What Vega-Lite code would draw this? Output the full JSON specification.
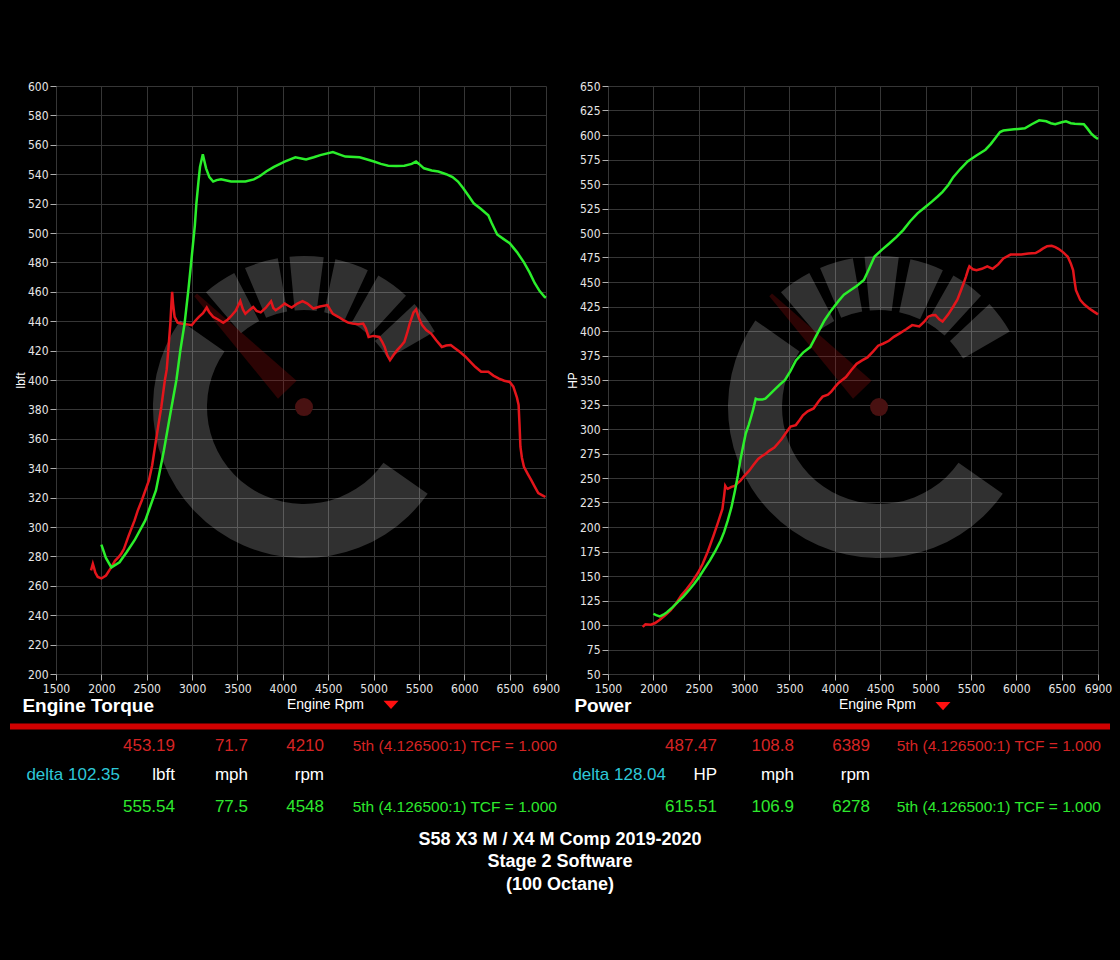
{
  "$schema": "https://vega.github.io/schema/vega-lite/v6.json",
  "description": "Dyno sheet: S58 X3 M / X4 M Comp, stock vs Stage 2 torque and power",
  "background": "#000000",
  "padding": {"top": 80, "left": 7, "right": 22, "bottom": 70},
  "config": {
    "view": {"stroke": null},
    "axis": {
      "domain": false,
      "grid": true,
      "gridColor": "#363636",
      "gridWidth": 1,
      "tickColor": "#b0b0b0",
      "tickSize": 6,
      "tickWidth": 1,
      "tickCount": 40,
      "labelColor": "#e6e6e6",
      "labelFont": "Liberation Sans Narrow, DejaVu Sans Condensed, Liberation Sans",
      "labelFontSize": 12,
      "titleColor": "#ffffff",
      "titleFont": "Liberation Sans",
      "titleFontWeight": "normal",
      "labelOverlap": false
    },
    "axisX": {"labelPadding": 3, "titleFontSize": 14, "titlePadding": 3, "labelFlush": false},
    "axisY": {"labelPadding": 2, "titleFontSize": 12, "titlePadding": 0},
    "title": {"color": "#ffffff", "font": "Liberation Sans", "fontSize": 19, "fontWeight": "bold"}
  },
  "datasets": {
    "torque": [
      {"run": "stock", "rpm": 1886, "v": 270.5}, {"run": "stock", "rpm": 1906, "v": 275}, {"run": "stock", "rpm": 1920, "v": 272},
      {"run": "stock", "rpm": 1933, "v": 269}, {"run": "stock", "rpm": 1960, "v": 266}, {"run": "stock", "rpm": 2000, "v": 265},
      {"run": "stock", "rpm": 2051, "v": 267}, {"run": "stock", "rpm": 2110, "v": 272.7}, {"run": "stock", "rpm": 2150, "v": 277},
      {"run": "stock", "rpm": 2189, "v": 279.5}, {"run": "stock", "rpm": 2220, "v": 282}, {"run": "stock", "rpm": 2248, "v": 285},
      {"run": "stock", "rpm": 2300, "v": 294}, {"run": "stock", "rpm": 2366, "v": 304.5}, {"run": "stock", "rpm": 2400, "v": 311},
      {"run": "stock", "rpm": 2445, "v": 318}, {"run": "stock", "rpm": 2524, "v": 331.7}, {"run": "stock", "rpm": 2560, "v": 342},
      {"run": "stock", "rpm": 2602, "v": 359}, {"run": "stock", "rpm": 2630, "v": 370}, {"run": "stock", "rpm": 2661, "v": 381.8},
      {"run": "stock", "rpm": 2700, "v": 400}, {"run": "stock", "rpm": 2720, "v": 407}, {"run": "stock", "rpm": 2740, "v": 422},
      {"run": "stock", "rpm": 2760, "v": 438.4}, {"run": "stock", "rpm": 2772, "v": 452}, {"run": "stock", "rpm": 2780, "v": 460},
      {"run": "stock", "rpm": 2790, "v": 452}, {"run": "stock", "rpm": 2807, "v": 443}, {"run": "stock", "rpm": 2840, "v": 439},
      {"run": "stock", "rpm": 2878, "v": 438.4}, {"run": "stock", "rpm": 2930, "v": 438}, {"run": "stock", "rpm": 2996, "v": 437.3},
      {"run": "stock", "rpm": 3030, "v": 440}, {"run": "stock", "rpm": 3075, "v": 443}, {"run": "stock", "rpm": 3120, "v": 445.5},
      {"run": "stock", "rpm": 3161, "v": 449.3}, {"run": "stock", "rpm": 3190, "v": 446}, {"run": "stock", "rpm": 3232, "v": 443},
      {"run": "stock", "rpm": 3290, "v": 441}, {"run": "stock", "rpm": 3343, "v": 438.9}, {"run": "stock", "rpm": 3390, "v": 441},
      {"run": "stock", "rpm": 3429, "v": 443.4}, {"run": "stock", "rpm": 3480, "v": 447}, {"run": "stock", "rpm": 3531, "v": 453.6},
      {"run": "stock", "rpm": 3560, "v": 448}, {"run": "stock", "rpm": 3587, "v": 445}, {"run": "stock", "rpm": 3630, "v": 447.5},
      {"run": "stock", "rpm": 3673, "v": 449.7}, {"run": "stock", "rpm": 3710, "v": 447}, {"run": "stock", "rpm": 3756, "v": 446},
      {"run": "stock", "rpm": 3810, "v": 449}, {"run": "stock", "rpm": 3870, "v": 453.6}, {"run": "stock", "rpm": 3895, "v": 449},
      {"run": "stock", "rpm": 3921, "v": 447.5}, {"run": "stock", "rpm": 3970, "v": 449.5}, {"run": "stock", "rpm": 4020, "v": 452},
      {"run": "stock", "rpm": 4060, "v": 450.5}, {"run": "stock", "rpm": 4098, "v": 449.3}, {"run": "stock", "rpm": 4160, "v": 452},
      {"run": "stock", "rpm": 4217, "v": 453.6}, {"run": "stock", "rpm": 4270, "v": 452}, {"run": "stock", "rpm": 4335, "v": 448.6},
      {"run": "stock", "rpm": 4410, "v": 450}, {"run": "stock", "rpm": 4492, "v": 451}, {"run": "stock", "rpm": 4520, "v": 448},
      {"run": "stock", "rpm": 4551, "v": 445}, {"run": "stock", "rpm": 4610, "v": 443}, {"run": "stock", "rpm": 4669, "v": 440.7},
      {"run": "stock", "rpm": 4720, "v": 439}, {"run": "stock", "rpm": 4768, "v": 438.4}, {"run": "stock", "rpm": 4830, "v": 438},
      {"run": "stock", "rpm": 4886, "v": 438.4}, {"run": "stock", "rpm": 4915, "v": 435}, {"run": "stock", "rpm": 4945, "v": 429.3},
      {"run": "stock", "rpm": 5000, "v": 430}, {"run": "stock", "rpm": 5063, "v": 429.3}, {"run": "stock", "rpm": 5095, "v": 426},
      {"run": "stock", "rpm": 5122, "v": 422.5}, {"run": "stock", "rpm": 5150, "v": 417}, {"run": "stock", "rpm": 5181, "v": 413.5},
      {"run": "stock", "rpm": 5220, "v": 417}, {"run": "stock", "rpm": 5260, "v": 420.3}, {"run": "stock", "rpm": 5300, "v": 423},
      {"run": "stock", "rpm": 5339, "v": 426}, {"run": "stock", "rpm": 5370, "v": 432}, {"run": "stock", "rpm": 5398, "v": 438.4},
      {"run": "stock", "rpm": 5440, "v": 446}, {"run": "stock", "rpm": 5468, "v": 448}, {"run": "stock", "rpm": 5500, "v": 442},
      {"run": "stock", "rpm": 5535, "v": 437.3}, {"run": "stock", "rpm": 5580, "v": 434}, {"run": "stock", "rpm": 5634, "v": 431.6},
      {"run": "stock", "rpm": 5690, "v": 427}, {"run": "stock", "rpm": 5752, "v": 422.5}, {"run": "stock", "rpm": 5800, "v": 423.5},
      {"run": "stock", "rpm": 5850, "v": 423.8}, {"run": "stock", "rpm": 5900, "v": 421.5}, {"run": "stock", "rpm": 5949, "v": 419.2},
      {"run": "stock", "rpm": 6010, "v": 416}, {"run": "stock", "rpm": 6067, "v": 412.4}, {"run": "stock", "rpm": 6120, "v": 409},
      {"run": "stock", "rpm": 6185, "v": 405.6}, {"run": "stock", "rpm": 6264, "v": 405.6}, {"run": "stock", "rpm": 6320, "v": 403},
      {"run": "stock", "rpm": 6382, "v": 401}, {"run": "stock", "rpm": 6440, "v": 399.5}, {"run": "stock", "rpm": 6500, "v": 398.7},
      {"run": "stock", "rpm": 6540, "v": 395.5}, {"run": "stock", "rpm": 6580, "v": 388}, {"run": "stock", "rpm": 6598, "v": 383},
      {"run": "stock", "rpm": 6608, "v": 370}, {"run": "stock", "rpm": 6618, "v": 354.6}, {"run": "stock", "rpm": 6635, "v": 347},
      {"run": "stock", "rpm": 6657, "v": 341}, {"run": "stock", "rpm": 6700, "v": 336}, {"run": "stock", "rpm": 6736, "v": 332},
      {"run": "stock", "rpm": 6780, "v": 327}, {"run": "stock", "rpm": 6815, "v": 323}, {"run": "stock", "rpm": 6860, "v": 321.5},
      {"run": "stock", "rpm": 6894, "v": 320.4},
      {"run": "stage2", "rpm": 2000, "v": 288}, {"run": "stage2", "rpm": 2050, "v": 279}, {"run": "stage2", "rpm": 2110, "v": 272.5},
      {"run": "stage2", "rpm": 2200, "v": 276}, {"run": "stage2", "rpm": 2280, "v": 283}, {"run": "stage2", "rpm": 2366, "v": 291},
      {"run": "stage2", "rpm": 2484, "v": 304.5}, {"run": "stage2", "rpm": 2602, "v": 325}, {"run": "stage2", "rpm": 2689, "v": 352},
      {"run": "stage2", "rpm": 2760, "v": 377}, {"run": "stage2", "rpm": 2827, "v": 400}, {"run": "stage2", "rpm": 2870, "v": 420},
      {"run": "stage2", "rpm": 2917, "v": 438.4}, {"run": "stage2", "rpm": 2960, "v": 462}, {"run": "stage2", "rpm": 2996, "v": 484},
      {"run": "stage2", "rpm": 3030, "v": 505}, {"run": "stage2", "rpm": 3047, "v": 520}, {"run": "stage2", "rpm": 3070, "v": 535},
      {"run": "stage2", "rpm": 3087, "v": 545}, {"run": "stage2", "rpm": 3118, "v": 553.5}, {"run": "stage2", "rpm": 3135, "v": 549},
      {"run": "stage2", "rpm": 3154, "v": 544}, {"run": "stage2", "rpm": 3190, "v": 538}, {"run": "stage2", "rpm": 3232, "v": 535},
      {"run": "stage2", "rpm": 3270, "v": 536}, {"run": "stage2", "rpm": 3319, "v": 536.6}, {"run": "stage2", "rpm": 3429, "v": 535},
      {"run": "stage2", "rpm": 3587, "v": 535}, {"run": "stage2", "rpm": 3680, "v": 536.5}, {"run": "stage2", "rpm": 3744, "v": 538.6},
      {"run": "stage2", "rpm": 3820, "v": 542}, {"run": "stage2", "rpm": 3902, "v": 545}, {"run": "stage2", "rpm": 4020, "v": 548.6},
      {"run": "stage2", "rpm": 4138, "v": 551.5}, {"run": "stage2", "rpm": 4256, "v": 550}, {"run": "stage2", "rpm": 4340, "v": 551.5},
      {"run": "stage2", "rpm": 4413, "v": 553}, {"run": "stage2", "rpm": 4551, "v": 555}, {"run": "stage2", "rpm": 4620, "v": 553.5},
      {"run": "stage2", "rpm": 4689, "v": 552}, {"run": "stage2", "rpm": 4846, "v": 551.5}, {"run": "stage2", "rpm": 4930, "v": 550},
      {"run": "stage2", "rpm": 5004, "v": 548.6}, {"run": "stage2", "rpm": 5080, "v": 547}, {"run": "stage2", "rpm": 5161, "v": 545.8},
      {"run": "stage2", "rpm": 5250, "v": 545.5}, {"run": "stage2", "rpm": 5339, "v": 545.8}, {"run": "stage2", "rpm": 5420, "v": 547},
      {"run": "stage2", "rpm": 5468, "v": 548.6}, {"run": "stage2", "rpm": 5500, "v": 547}, {"run": "stage2", "rpm": 5555, "v": 544},
      {"run": "stage2", "rpm": 5640, "v": 542.5}, {"run": "stage2", "rpm": 5713, "v": 541.8}, {"run": "stage2", "rpm": 5800, "v": 540},
      {"run": "stage2", "rpm": 5870, "v": 538}, {"run": "stage2", "rpm": 5930, "v": 535}, {"run": "stage2", "rpm": 5988, "v": 530.5},
      {"run": "stage2", "rpm": 6050, "v": 525}, {"run": "stage2", "rpm": 6106, "v": 520}, {"run": "stage2", "rpm": 6180, "v": 516.5},
      {"run": "stage2", "rpm": 6264, "v": 512}, {"run": "stage2", "rpm": 6300, "v": 507}, {"run": "stage2", "rpm": 6362, "v": 499},
      {"run": "stage2", "rpm": 6430, "v": 496}, {"run": "stage2", "rpm": 6500, "v": 493}, {"run": "stage2", "rpm": 6580, "v": 487},
      {"run": "stage2", "rpm": 6657, "v": 480}, {"run": "stage2", "rpm": 6720, "v": 473}, {"run": "stage2", "rpm": 6775, "v": 466},
      {"run": "stage2", "rpm": 6830, "v": 460.5}, {"run": "stage2", "rpm": 6886, "v": 456.5}, {"run": "stage2", "rpm": 6900, "v": 456}
    ],
    "power": [
      {"run": "stock", "rpm": 1882, "v": 98}, {"run": "stock", "rpm": 1913, "v": 100.7}, {"run": "stock", "rpm": 1940, "v": 100.5},
      {"run": "stock", "rpm": 1972, "v": 100.3}, {"run": "stock", "rpm": 2020, "v": 102}, {"run": "stock", "rpm": 2071, "v": 105.4},
      {"run": "stock", "rpm": 2130, "v": 110}, {"run": "stock", "rpm": 2189, "v": 115}, {"run": "stock", "rpm": 2250, "v": 122},
      {"run": "stock", "rpm": 2307, "v": 130}, {"run": "stock", "rpm": 2370, "v": 137}, {"run": "stock", "rpm": 2426, "v": 144},
      {"run": "stock", "rpm": 2490, "v": 153}, {"run": "stock", "rpm": 2544, "v": 162.5}, {"run": "stock", "rpm": 2600, "v": 175},
      {"run": "stock", "rpm": 2662, "v": 191}, {"run": "stock", "rpm": 2710, "v": 204}, {"run": "stock", "rpm": 2761, "v": 218.5},
      {"run": "stock", "rpm": 2780, "v": 232}, {"run": "stock", "rpm": 2792, "v": 242}, {"run": "stock", "rpm": 2805, "v": 240},
      {"run": "stock", "rpm": 2820, "v": 239}, {"run": "stock", "rpm": 2860, "v": 241}, {"run": "stock", "rpm": 2899, "v": 242},
      {"run": "stock", "rpm": 2930, "v": 245}, {"run": "stock", "rpm": 2958, "v": 247}, {"run": "stock", "rpm": 3000, "v": 252},
      {"run": "stock", "rpm": 3056, "v": 257.5}, {"run": "stock", "rpm": 3100, "v": 263}, {"run": "stock", "rpm": 3155, "v": 269.5},
      {"run": "stock", "rpm": 3190, "v": 272}, {"run": "stock", "rpm": 3234, "v": 274.5}, {"run": "stock", "rpm": 3280, "v": 278},
      {"run": "stock", "rpm": 3333, "v": 281}, {"run": "stock", "rpm": 3370, "v": 285}, {"run": "stock", "rpm": 3412, "v": 289.5},
      {"run": "stock", "rpm": 3460, "v": 296}, {"run": "stock", "rpm": 3510, "v": 302.4}, {"run": "stock", "rpm": 3570, "v": 304},
      {"run": "stock", "rpm": 3610, "v": 309}, {"run": "stock", "rpm": 3648, "v": 314}, {"run": "stock", "rpm": 3700, "v": 318},
      {"run": "stock", "rpm": 3766, "v": 321}, {"run": "stock", "rpm": 3820, "v": 328}, {"run": "stock", "rpm": 3865, "v": 333},
      {"run": "stock", "rpm": 3924, "v": 335}, {"run": "stock", "rpm": 3960, "v": 338}, {"run": "stock", "rpm": 4002, "v": 343},
      {"run": "stock", "rpm": 4040, "v": 347}, {"run": "stock", "rpm": 4081, "v": 350}, {"run": "stock", "rpm": 4122, "v": 353},
      {"run": "stock", "rpm": 4180, "v": 360}, {"run": "stock", "rpm": 4240, "v": 366.5}, {"run": "stock", "rpm": 4300, "v": 370},
      {"run": "stock", "rpm": 4359, "v": 373}, {"run": "stock", "rpm": 4420, "v": 379}, {"run": "stock", "rpm": 4477, "v": 385},
      {"run": "stock", "rpm": 4530, "v": 387}, {"run": "stock", "rpm": 4596, "v": 390}, {"run": "stock", "rpm": 4650, "v": 394},
      {"run": "stock", "rpm": 4714, "v": 397.6}, {"run": "stock", "rpm": 4790, "v": 402}, {"run": "stock", "rpm": 4852, "v": 406},
      {"run": "stock", "rpm": 4930, "v": 404.6}, {"run": "stock", "rpm": 4980, "v": 409}, {"run": "stock", "rpm": 5029, "v": 414.6},
      {"run": "stock", "rpm": 5070, "v": 416}, {"run": "stock", "rpm": 5108, "v": 416.3}, {"run": "stock", "rpm": 5150, "v": 412},
      {"run": "stock", "rpm": 5187, "v": 409.6}, {"run": "stock", "rpm": 5250, "v": 417}, {"run": "stock", "rpm": 5305, "v": 425},
      {"run": "stock", "rpm": 5350, "v": 432}, {"run": "stock", "rpm": 5384, "v": 440}, {"run": "stock", "rpm": 5420, "v": 449},
      {"run": "stock", "rpm": 5443, "v": 455}, {"run": "stock", "rpm": 5470, "v": 463}, {"run": "stock", "rpm": 5483, "v": 466},
      {"run": "stock", "rpm": 5520, "v": 463}, {"run": "stock", "rpm": 5561, "v": 462}, {"run": "stock", "rpm": 5620, "v": 463.5},
      {"run": "stock", "rpm": 5680, "v": 466}, {"run": "stock", "rpm": 5739, "v": 463.5}, {"run": "stock", "rpm": 5800, "v": 468},
      {"run": "stock", "rpm": 5857, "v": 474}, {"run": "stock", "rpm": 5936, "v": 478}, {"run": "stock", "rpm": 6054, "v": 478},
      {"run": "stock", "rpm": 6133, "v": 479}, {"run": "stock", "rpm": 6212, "v": 479.5}, {"run": "stock", "rpm": 6260, "v": 482},
      {"run": "stock", "rpm": 6291, "v": 484}, {"run": "stock", "rpm": 6340, "v": 486.5}, {"run": "stock", "rpm": 6389, "v": 487},
      {"run": "stock", "rpm": 6430, "v": 485.5}, {"run": "stock", "rpm": 6468, "v": 483.6}, {"run": "stock", "rpm": 6520, "v": 480},
      {"run": "stock", "rpm": 6567, "v": 475.7}, {"run": "stock", "rpm": 6600, "v": 469}, {"run": "stock", "rpm": 6626, "v": 462},
      {"run": "stock", "rpm": 6640, "v": 452}, {"run": "stock", "rpm": 6657, "v": 441.6}, {"run": "stock", "rpm": 6705, "v": 431.5},
      {"run": "stock", "rpm": 6750, "v": 427}, {"run": "stock", "rpm": 6803, "v": 423}, {"run": "stock", "rpm": 6850, "v": 420},
      {"run": "stock", "rpm": 6900, "v": 417},
      {"run": "stage2", "rpm": 2000, "v": 111.5}, {"run": "stage2", "rpm": 2030, "v": 110}, {"run": "stage2", "rpm": 2071, "v": 108.8},
      {"run": "stage2", "rpm": 2110, "v": 110.5}, {"run": "stage2", "rpm": 2150, "v": 113}, {"run": "stage2", "rpm": 2210, "v": 118},
      {"run": "stage2", "rpm": 2268, "v": 123.4}, {"run": "stage2", "rpm": 2330, "v": 129}, {"run": "stage2", "rpm": 2387, "v": 135},
      {"run": "stage2", "rpm": 2450, "v": 142}, {"run": "stage2", "rpm": 2505, "v": 149}, {"run": "stage2", "rpm": 2560, "v": 157},
      {"run": "stage2", "rpm": 2623, "v": 166}, {"run": "stage2", "rpm": 2680, "v": 175}, {"run": "stage2", "rpm": 2741, "v": 186},
      {"run": "stage2", "rpm": 2780, "v": 195}, {"run": "stage2", "rpm": 2820, "v": 206.7}, {"run": "stage2", "rpm": 2860, "v": 220},
      {"run": "stage2", "rpm": 2899, "v": 237}, {"run": "stage2", "rpm": 2930, "v": 252}, {"run": "stage2", "rpm": 2958, "v": 268},
      {"run": "stage2", "rpm": 2990, "v": 283}, {"run": "stage2", "rpm": 3017, "v": 295}, {"run": "stage2", "rpm": 3050, "v": 304},
      {"run": "stage2", "rpm": 3076, "v": 312}, {"run": "stage2", "rpm": 3100, "v": 320}, {"run": "stage2", "rpm": 3128, "v": 331},
      {"run": "stage2", "rpm": 3155, "v": 330}, {"run": "stage2", "rpm": 3200, "v": 330}, {"run": "stage2", "rpm": 3234, "v": 331},
      {"run": "stage2", "rpm": 3280, "v": 335}, {"run": "stage2", "rpm": 3333, "v": 340}, {"run": "stage2", "rpm": 3390, "v": 345},
      {"run": "stage2", "rpm": 3451, "v": 350}, {"run": "stage2", "rpm": 3510, "v": 359}, {"run": "stage2", "rpm": 3571, "v": 370},
      {"run": "stage2", "rpm": 3650, "v": 378}, {"run": "stage2", "rpm": 3729, "v": 383.6}, {"run": "stage2", "rpm": 3800, "v": 396},
      {"run": "stage2", "rpm": 3887, "v": 411}, {"run": "stage2", "rpm": 3960, "v": 421}, {"run": "stage2", "rpm": 4044, "v": 431},
      {"run": "stage2", "rpm": 4100, "v": 437}, {"run": "stage2", "rpm": 4163, "v": 441}, {"run": "stage2", "rpm": 4240, "v": 446},
      {"run": "stage2", "rpm": 4320, "v": 452}, {"run": "stage2", "rpm": 4380, "v": 464}, {"run": "stage2", "rpm": 4438, "v": 476},
      {"run": "stage2", "rpm": 4520, "v": 483}, {"run": "stage2", "rpm": 4596, "v": 489}, {"run": "stage2", "rpm": 4680, "v": 496},
      {"run": "stage2", "rpm": 4753, "v": 503}, {"run": "stage2", "rpm": 4830, "v": 512}, {"run": "stage2", "rpm": 4911, "v": 520},
      {"run": "stage2", "rpm": 4990, "v": 526}, {"run": "stage2", "rpm": 5069, "v": 532}, {"run": "stage2", "rpm": 5130, "v": 537},
      {"run": "stage2", "rpm": 5187, "v": 542}, {"run": "stage2", "rpm": 5250, "v": 549}, {"run": "stage2", "rpm": 5305, "v": 557},
      {"run": "stage2", "rpm": 5380, "v": 565}, {"run": "stage2", "rpm": 5463, "v": 573}, {"run": "stage2", "rpm": 5560, "v": 579},
      {"run": "stage2", "rpm": 5660, "v": 585}, {"run": "stage2", "rpm": 5720, "v": 591}, {"run": "stage2", "rpm": 5778, "v": 598},
      {"run": "stage2", "rpm": 5820, "v": 603}, {"run": "stage2", "rpm": 5857, "v": 604.5}, {"run": "stage2", "rpm": 5975, "v": 605.8},
      {"run": "stage2", "rpm": 6094, "v": 606.8}, {"run": "stage2", "rpm": 6170, "v": 611}, {"run": "stage2", "rpm": 6252, "v": 615},
      {"run": "stage2", "rpm": 6330, "v": 614}, {"run": "stage2", "rpm": 6380, "v": 612}, {"run": "stage2", "rpm": 6428, "v": 611},
      {"run": "stage2", "rpm": 6500, "v": 613}, {"run": "stage2", "rpm": 6547, "v": 614}, {"run": "stage2", "rpm": 6600, "v": 612},
      {"run": "stage2", "rpm": 6645, "v": 611.6}, {"run": "stage2", "rpm": 6744, "v": 611}, {"run": "stage2", "rpm": 6780, "v": 607},
      {"run": "stage2", "rpm": 6823, "v": 601.7}, {"run": "stage2", "rpm": 6860, "v": 598.5}, {"run": "stage2", "rpm": 6900, "v": 596}
    ],
    "table": [
      {"line": 1, "col": 1, "kind": "stock", "text": "453.19"},
      {"line": 1, "col": 2, "kind": "stock", "text": "71.7"},
      {"line": 1, "col": 3, "kind": "stock", "text": "4210"},
      {"line": 1, "col": 4, "kind": "stock", "text": "5th (4.126500:1) TCF = 1.000"},
      {"line": 1, "col": 7, "kind": "stock", "text": "487.47"},
      {"line": 1, "col": 8, "kind": "stock", "text": "108.8"},
      {"line": 1, "col": 9, "kind": "stock", "text": "6389"},
      {"line": 1, "col": 10, "kind": "stock", "text": "5th (4.126500:1) TCF = 1.000"},
      {"line": 2, "col": 0, "kind": "delta", "text": "delta 102.35"},
      {"line": 2, "col": 1, "kind": "unit", "text": "lbft"},
      {"line": 2, "col": 2, "kind": "unit", "text": "mph"},
      {"line": 2, "col": 3, "kind": "unit", "text": "rpm"},
      {"line": 2, "col": 6, "kind": "delta", "text": "delta 128.04"},
      {"line": 2, "col": 7, "kind": "unit", "text": "HP"},
      {"line": 2, "col": 8, "kind": "unit", "text": "mph"},
      {"line": 2, "col": 9, "kind": "unit", "text": "rpm"},
      {"line": 3, "col": 1, "kind": "stage2", "text": "555.54"},
      {"line": 3, "col": 2, "kind": "stage2", "text": "77.5"},
      {"line": 3, "col": 3, "kind": "stage2", "text": "4548"},
      {"line": 3, "col": 4, "kind": "stage2", "text": "5th (4.126500:1) TCF = 1.000"},
      {"line": 3, "col": 7, "kind": "stage2", "text": "615.51"},
      {"line": 3, "col": 8, "kind": "stage2", "text": "106.9"},
      {"line": 3, "col": 9, "kind": "stage2", "text": "6278"},
      {"line": 3, "col": 10, "kind": "stage2", "text": "5th (4.126500:1) TCF = 1.000"},
      {"line": 4, "col": 5, "kind": "caption", "text": "S58 X3 M / X4 M Comp 2019-2020"},
      {"line": 5, "col": 5, "kind": "caption", "text": "Stage 2 Software"},
      {"line": 6, "col": 5, "kind": "caption", "text": "(100 Octane)"}
    ]
  },
  "spacing": 0,
  "resolve": {"scale": {"x": "independent", "y": "independent", "color": "independent"}},
  "vconcat": [
    {
      "spacing": 6,
      "resolve": {"scale": {"x": "independent", "y": "independent", "color": "independent"}},
      "hconcat": [
        {
          "width": 490,
          "height": 588,
          "title": {"text": "Engine Torque", "orient": "bottom", "anchor": "start", "frame": "bounds", "dx": 8, "dy": -18},
          "layer": [
            {
              "data": {"values": [{}]},
              "mark": {"type": "arc", "theta": 2.1817, "theta2": 5.3233, "radius": 151, "radius2": 97, "fill": "#ffffff", "fillOpacity": 0.19},
              "encoding": {"x": {"datum": 4233, "type": "quantitative"}, "y": {"datum": 381.6, "type": "quantitative"}}
            },
            {
              "data": {"values": [{}]},
              "mark": {"type": "arc", "theta": 5.5763, "theta2": 5.8032, "radius": 151, "radius2": 97, "fill": "#ffffff", "fillOpacity": 0.19},
              "encoding": {"x": {"datum": 4233, "type": "quantitative"}, "y": {"datum": 381.6, "type": "quantitative"}}
            },
            {
              "data": {"values": [{}]},
              "mark": {"type": "arc", "theta": 5.8818, "theta2": 6.1087, "radius": 151, "radius2": 97, "fill": "#ffffff", "fillOpacity": 0.19},
              "encoding": {"x": {"datum": 4233, "type": "quantitative"}, "y": {"datum": 381.6, "type": "quantitative"}}
            },
            {
              "data": {"values": [{}]},
              "mark": {"type": "arc", "theta": 6.1872, "theta2": 6.4141, "radius": 151, "radius2": 97, "fill": "#ffffff", "fillOpacity": 0.19},
              "encoding": {"x": {"datum": 4233, "type": "quantitative"}, "y": {"datum": 381.6, "type": "quantitative"}}
            },
            {
              "data": {"values": [{}]},
              "mark": {"type": "arc", "theta": 6.4926, "theta2": 6.7195, "radius": 151, "radius2": 97, "fill": "#ffffff", "fillOpacity": 0.19},
              "encoding": {"x": {"datum": 4233, "type": "quantitative"}, "y": {"datum": 381.6, "type": "quantitative"}}
            },
            {
              "data": {"values": [{}]},
              "mark": {"type": "arc", "theta": 6.798, "theta2": 7.0249, "radius": 151, "radius2": 97, "fill": "#ffffff", "fillOpacity": 0.19},
              "encoding": {"x": {"datum": 4233, "type": "quantitative"}, "y": {"datum": 381.6, "type": "quantitative"}}
            },
            {
              "data": {"values": [{}]},
              "mark": {"type": "arc", "theta": 7.1035, "theta2": 7.3304, "radius": 151, "radius2": 97, "fill": "#ffffff", "fillOpacity": 0.19},
              "encoding": {"x": {"datum": 4233, "type": "quantitative"}, "y": {"datum": 381.6, "type": "quantitative"}}
            },
            {
              "data": {"values": [{}]},
              "mark": {"type": "point", "shape": "M -0.083 -0.154 L 0.083 -0.154 L 0.012 -1 L -0.012 -1 Z", "size": 97344, "angle": -44, "filled": true, "color": "#b01010", "opacity": 0.25, "strokeWidth": 0},
              "encoding": {"x": {"datum": 4233, "type": "quantitative"}, "y": {"datum": 381.6, "type": "quantitative"}}
            },
            {
              "data": {"values": [{}]},
              "mark": {"type": "point", "shape": "circle", "size": 324, "filled": true, "color": "#481111", "opacity": 1, "strokeWidth": 0},
              "encoding": {"x": {"datum": 4233, "type": "quantitative"}, "y": {"datum": 381.6, "type": "quantitative"}}
            },
            {
              "data": {"name": "torque"},
              "mark": {"type": "line", "strokeWidth": 2.5},
              "encoding": {
                "x": {
                  "field": "rpm", "type": "quantitative",
                  "scale": {"domain": [1500, 6900], "nice": false, "zero": false},
                  "axis": {"values": [1500, 2000, 2500, 3000, 3500, 4000, 4500, 5000, 5500, 6000, 6500, 6900], "format": "d", "grid": true, "tickCount": 40, "labelOverlap": false, "title": "Engine Rpm", "titleX": 269}
                },
                "y": {
                  "field": "v", "type": "quantitative",
                  "scale": {"domain": [200, 600], "nice": false, "zero": false},
                  "axis": {"values": [200, 220, 240, 260, 280, 300, 320, 340, 360, 380, 400, 420, 440, 460, 480, 500, 520, 540, 560, 580, 600], "format": "d", "grid": true, "tickCount": 40, "labelOverlap": false, "title": "lbft"}
                },
                "color": {"field": "run", "type": "nominal", "scale": {"domain": ["stock", "stage2"], "range": ["#e3151b", "#2bee2b"]}, "legend": null}
              }
            },
            {
              "data": {"values": [{}]},
              "mark": {"type": "point", "shape": "M -1 -0.55 L 1 -0.55 L 0 0.55 Z", "size": 225, "filled": true, "color": "#ff1010", "opacity": 1, "strokeWidth": 0},
              "encoding": {"x": {"datum": 5192, "type": "quantitative"}, "y": {"datum": 179, "type": "quantitative"}}
            }
          ]
        },
        {
          "width": 490,
          "height": 588,
          "title": {"text": "Power", "orient": "bottom", "anchor": "start", "frame": "bounds", "dx": 8, "dy": -18},
          "layer": [
            {
              "data": {"values": [{}]},
              "mark": {"type": "arc", "theta": 2.1817, "theta2": 5.3233, "radius": 151, "radius2": 97, "fill": "#ffffff", "fillOpacity": 0.19},
              "encoding": {"x": {"datum": 4487, "type": "quantitative"}, "y": {"datum": 322.4, "type": "quantitative"}}
            },
            {
              "data": {"values": [{}]},
              "mark": {"type": "arc", "theta": 5.5763, "theta2": 5.8032, "radius": 151, "radius2": 97, "fill": "#ffffff", "fillOpacity": 0.19},
              "encoding": {"x": {"datum": 4487, "type": "quantitative"}, "y": {"datum": 322.4, "type": "quantitative"}}
            },
            {
              "data": {"values": [{}]},
              "mark": {"type": "arc", "theta": 5.8818, "theta2": 6.1087, "radius": 151, "radius2": 97, "fill": "#ffffff", "fillOpacity": 0.19},
              "encoding": {"x": {"datum": 4487, "type": "quantitative"}, "y": {"datum": 322.4, "type": "quantitative"}}
            },
            {
              "data": {"values": [{}]},
              "mark": {"type": "arc", "theta": 6.1872, "theta2": 6.4141, "radius": 151, "radius2": 97, "fill": "#ffffff", "fillOpacity": 0.19},
              "encoding": {"x": {"datum": 4487, "type": "quantitative"}, "y": {"datum": 322.4, "type": "quantitative"}}
            },
            {
              "data": {"values": [{}]},
              "mark": {"type": "arc", "theta": 6.4926, "theta2": 6.7195, "radius": 151, "radius2": 97, "fill": "#ffffff", "fillOpacity": 0.19},
              "encoding": {"x": {"datum": 4487, "type": "quantitative"}, "y": {"datum": 322.4, "type": "quantitative"}}
            },
            {
              "data": {"values": [{}]},
              "mark": {"type": "arc", "theta": 6.798, "theta2": 7.0249, "radius": 151, "radius2": 97, "fill": "#ffffff", "fillOpacity": 0.19},
              "encoding": {"x": {"datum": 4487, "type": "quantitative"}, "y": {"datum": 322.4, "type": "quantitative"}}
            },
            {
              "data": {"values": [{}]},
              "mark": {"type": "arc", "theta": 7.1035, "theta2": 7.3304, "radius": 151, "radius2": 97, "fill": "#ffffff", "fillOpacity": 0.19},
              "encoding": {"x": {"datum": 4487, "type": "quantitative"}, "y": {"datum": 322.4, "type": "quantitative"}}
            },
            {
              "data": {"values": [{}]},
              "mark": {"type": "point", "shape": "M -0.083 -0.154 L 0.083 -0.154 L 0.012 -1 L -0.012 -1 Z", "size": 97344, "angle": -44, "filled": true, "color": "#b01010", "opacity": 0.25, "strokeWidth": 0},
              "encoding": {"x": {"datum": 4487, "type": "quantitative"}, "y": {"datum": 322.4, "type": "quantitative"}}
            },
            {
              "data": {"values": [{}]},
              "mark": {"type": "point", "shape": "circle", "size": 324, "filled": true, "color": "#481111", "opacity": 1, "strokeWidth": 0},
              "encoding": {"x": {"datum": 4487, "type": "quantitative"}, "y": {"datum": 322.4, "type": "quantitative"}}
            },
            {
              "data": {"name": "power"},
              "mark": {"type": "line", "strokeWidth": 2.5},
              "encoding": {
                "x": {
                  "field": "rpm", "type": "quantitative",
                  "scale": {"domain": [1500, 6900], "nice": false, "zero": false},
                  "axis": {"values": [1500, 2000, 2500, 3000, 3500, 4000, 4500, 5000, 5500, 6000, 6500, 6900], "format": "d", "grid": true, "tickCount": 40, "labelOverlap": false, "title": "Engine Rpm", "titleX": 269}
                },
                "y": {
                  "field": "v", "type": "quantitative",
                  "scale": {"domain": [50, 650], "nice": false, "zero": false},
                  "axis": {"values": [50, 75, 100, 125, 150, 175, 200, 225, 250, 275, 300, 325, 350, 375, 400, 425, 450, 475, 500, 525, 550, 575, 600, 625, 650], "format": "d", "grid": true, "tickCount": 40, "labelOverlap": false, "title": "HP"}
                },
                "color": {"field": "run", "type": "nominal", "scale": {"domain": ["stock", "stage2"], "range": ["#e3151b", "#2bee2b"]}, "legend": null}
              }
            },
            {
              "data": {"values": [{}]},
              "mark": {"type": "point", "shape": "M -1 -0.55 L 1 -0.55 L 0 0.55 Z", "size": 225, "filled": true, "color": "#ff1010", "opacity": 1, "strokeWidth": 0},
              "encoding": {"x": {"datum": 5192, "type": "quantitative"}, "y": {"datum": 17.3, "type": "quantitative"}}
            }
          ]
        }
      ]
    },
    {
      "width": 1054,
      "height": 180,
      "data": {"name": "table"},
      "encoding": {
        "x": {"field": "col", "type": "quantitative", "scale": {"domain": [-1, 0, 1, 2, 3, 4, 5, 6, 7, 8, 9, 10, 11], "range": [-46, 64, 119, 192, 268, 501, 504, 610, 661, 738, 814, 1045, 1054], "nice": false, "zero": false}, "axis": null},
        "y": {"field": "line", "type": "quantitative", "scale": {"domain": [0, 1, 2, 3, 4, 5, 6], "range": [10.5, 30, 59, 91, 124, 146, 169], "nice": false, "zero": false}, "axis": null},
        "color": {"field": "kind", "type": "nominal", "scale": {"domain": ["stock", "stage2", "delta", "unit", "caption"], "range": ["#d62424", "#2ee82e", "#2ec8d8", "#ffffff", "#ffffff"]}, "legend": null},
        "text": {"field": "text", "type": "nominal"}
      },
      "layer": [
        {
          "data": {"values": [{"line": 0, "col": -1, "col_end": 11}]},
          "mark": {"type": "rule", "color": "#d10000", "strokeWidth": 6},
          "encoding": {"x2": {"field": "col_end"}, "color": null, "text": null}
        },
        {
          "transform": [{"filter": "datum.col != 4 && datum.col != 10 && datum.col != 5"}],
          "mark": {"type": "text", "align": "right", "baseline": "middle", "font": "Liberation Sans", "fontSize": 17}
        },
        {
          "transform": [{"filter": "datum.col == 4 || datum.col == 10"}],
          "mark": {"type": "text", "align": "right", "baseline": "middle", "font": "Liberation Sans", "fontSize": 15.5}
        },
        {
          "transform": [{"filter": "datum.col == 5"}],
          "mark": {"type": "text", "align": "center", "baseline": "middle", "font": "Liberation Sans", "fontSize": 18, "fontWeight": "bold"}
        }
      ]
    }
  ]
}
